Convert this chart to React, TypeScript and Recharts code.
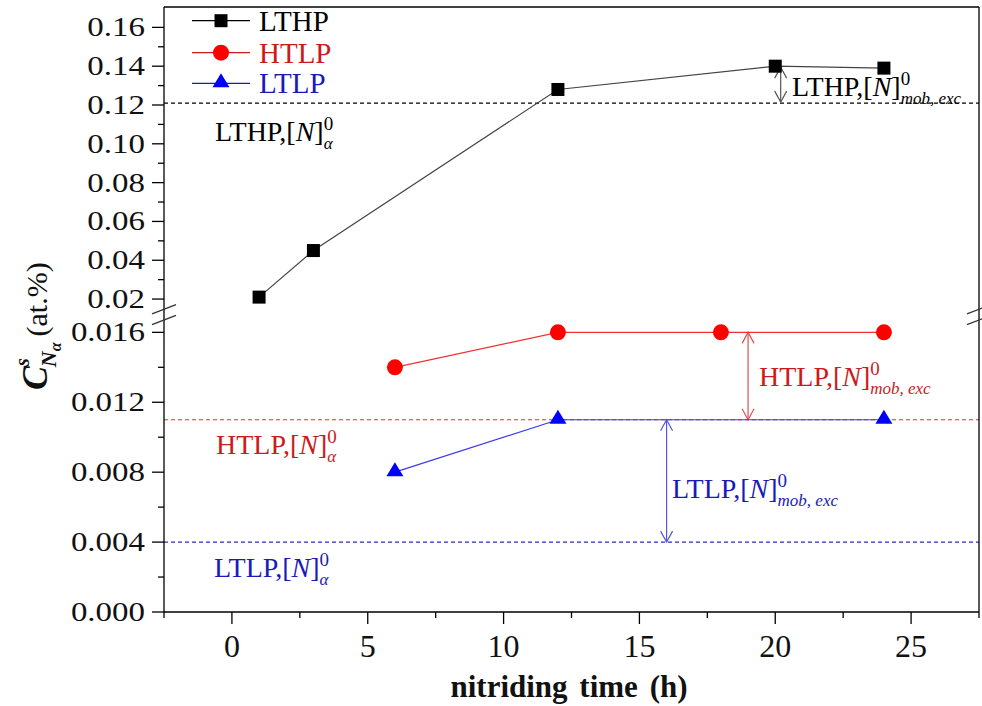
import React from 'react';
import { LineChart, Line, XAxis, YAxis, ReferenceLine } from 'recharts';

// nitriding time (h) and surface concentration (at.%)
const lthpTime = [1, 3, 12, 20, 24];
const lthpConc = [0.021, 0.045, 0.128, 0.14, 0.139];
const htlpTime = [6, 12, 18, 24];
const htlpConc = [0.014, 0.016, 0.016, 0.016];
const ltlpTime = [6, 12, 24];
const ltlpConc = [0.008, 0.011, 0.011];

// equilibrium levels [N]alpha^0
const lthpAlpha = 0.121;
const htlpAlpha = 0.011;
const ltlpAlpha = 0.004;

// excess arrows: [time, from, to]
const lthpArrow = [20.2, 0.1395, 0.1215];
const htlpArrow = [19, 0.016, 0.011];
const ltlpArrow = [16, 0.011, 0.004];

const xTicks = [-2.5, 0, 2.5, 5, 7.5, 10, 12.5, 15, 17.5, 20, 22.5, 25, 27.5];
const xMajor = [0, 5, 10, 15, 20, 25];
const upperTicks = [0.02, 0.03, 0.04, 0.05, 0.06, 0.07, 0.08, 0.09, 0.1, 0.11, 0.12, 0.13, 0.14, 0.15, 0.16];
const upperMajor = [0.02, 0.04, 0.06, 0.08, 0.1, 0.12, 0.14, 0.16];
const lowerTicks = [0, 0.002, 0.004, 0.006, 0.008, 0.01, 0.012, 0.014, 0.016];
const lowerMajor = [0, 0.004, 0.008, 0.012, 0.016];

const lthpData = lthpTime.map((t, i) => ({ t, c: lthpConc[i] }));
const htlpData = htlpTime.map((t, i) => ({ t, c: htlpConc[i] }));
const ltlpData = ltlpTime.map((t, i) => ({ t, c: ltlpConc[i] }));

const SERIF = '"Liberation Serif", "Times New Roman", serif';
const RED = '#ff0000';
const BLUE = '#0000ff';
const RED_TXT = '#cc1a1a';
const BLUE_TXT = '#1a1ab8';

const W = 982;
const LEFT = 164;
const RIGHT = 979;
const TOP = 7;
const BREAK = 314;
const BOTTOM = 612;

const isIn = (list: number[], v: number) => list.some((m) => Math.abs(m - v) < 1e-9);

const makeYTick = (major: number[], digits: number) => (props: any) => {
  const { x, y, payload } = props;
  const big = isIn(major, payload.value);
  return (
    <g>
      <line x1={x - (big ? 12 : 6)} x2={x} y1={y} y2={y} stroke="#000" strokeWidth={1.3} />
      {big && (
        <g transform={`translate(${x - 19}, ${y + 9}) scale(1.22, 1)`}>
          <text textAnchor="end" fontFamily={SERIF} fontSize={27} fill="#111">
            {payload.value.toFixed(digits)}
          </text>
        </g>
      )}
    </g>
  );
};

const XTick = (props: any) => {
  const { x, y, payload } = props;
  const big = isIn(xMajor, payload.value);
  return (
    <g>
      <line x1={x} x2={x} y1={y} y2={y + (big ? 12 : 6)} stroke="#000" strokeWidth={1.3} />
      {big && (
        <text x={x} y={y + 45} textAnchor="middle" fontFamily={SERIF} fontSize={32} fill="#111">
          {payload.value}
        </text>
      )}
    </g>
  );
};

const arrowShape = (color: string) => (props: any) => {
  const { x1, y1, y2 } = props;
  const top = Math.min(y1, y2);
  const bot = Math.max(y1, y2);
  const h = 11;
  const w = 6;
  return (
    <g stroke={color} strokeWidth={1.2} fill="none">
      <line x1={x1} y1={top} x2={x1} y2={bot} />
      <polyline points={`${x1 - w},${top + h} ${x1},${top} ${x1 + w},${top + h}`} />
      <polyline points={`${x1 - w},${bot - h} ${x1},${bot} ${x1 + w},${bot - h}`} />
    </g>
  );
};

const squareDot = (p: any) => (
  <rect key={`s${p.index}`} x={p.cx - 6.5} y={p.cy - 6.5} width={13} height={13} fill="#000" />
);
const circleDot = (p: any) => <circle key={`c${p.index}`} cx={p.cx} cy={p.cy} r={8} fill={RED} />;
const triDot = (p: any) => (
  <polygon
    key={`t${p.index}`}
    points={`${p.cx},${p.cy - 10} ${p.cx - 8.5},${p.cy + 4} ${p.cx + 8.5},${p.cy + 4}`}
    fill={BLUE}
  />
);

const Annot = ({ x, y, color, lead, sub }: any) => (
  <text x={x} y={y} fill={color} fontFamily={SERIF} fontSize={28}>
    {lead},[<tspan fontStyle="italic">N</tspan>]
    <tspan fontSize={19} dy={-11}>0</tspan>
    <tspan fontSize={17} fontStyle="italic" dx={-9.5} dy={19}>{sub}</tspan>
  </text>
);

const LegendRow = ({ y, color, label, children }: any) => (
  <g>
    <line x1={192} x2={250} y1={y} y2={y} stroke={color} strokeWidth={1.3} />
    {children}
    <text x={259} y={y + 10} fill={color} fontFamily={SERIF} fontSize={29}>{label}</text>
  </g>
);

const axisStyle = { stroke: '#000', strokeWidth: 1.3 };

export default function App() {
  return (
    <div style={{ position: 'absolute', left: 0, top: 0, width: W, height: 706, background: '#fff' }}>
      <div style={{ position: 'absolute', left: 0, top: 0 }}>
        <LineChart width={W} height={BREAK} margin={{ top: TOP, right: W - RIGHT, bottom: 0, left: 0 }}>
          <XAxis type="number" dataKey="t" domain={[-2.5, 27.5]} hide allowDataOverflow />
          <YAxis
            type="number"
            domain={[0.0123, 0.1705]}
            ticks={upperTicks}
            interval={0}
            width={LEFT}
            tickSize={0}
            tickMargin={0}
            tickLine={false}
            axisLine={axisStyle}
            tick={makeYTick(upperMajor, 2)}
            allowDataOverflow
          />
          <ReferenceLine y={lthpAlpha} stroke="#000" strokeWidth={1.2} strokeDasharray="4 3" />
          <ReferenceLine
            segment={[{ x: lthpArrow[0], y: lthpArrow[1] }, { x: lthpArrow[0], y: lthpArrow[2] }]}
            shape={arrowShape('#555')}
          />
          <Line
            data={lthpData}
            dataKey="c"
            stroke="#444"
            strokeWidth={1.2}
            dot={squareDot}
            isAnimationActive={false}
          />
        </LineChart>
      </div>
      <div style={{ position: 'absolute', left: 0, top: BREAK }}>
        <LineChart width={W} height={706 - BREAK} margin={{ top: 0, right: W - RIGHT, bottom: 0, left: 0 }}>
          <XAxis
            type="number"
            dataKey="t"
            domain={[-2.5, 27.5]}
            ticks={xTicks}
            interval={0}
            height={706 - BOTTOM}
            tickSize={0}
            tickMargin={0}
            tickLine={false}
            axisLine={axisStyle}
            tick={XTick}
            allowDataOverflow
          />
          <YAxis
            type="number"
            domain={[0, 0.01705]}
            ticks={lowerTicks}
            interval={0}
            width={LEFT}
            tickSize={0}
            tickMargin={0}
            tickLine={false}
            axisLine={axisStyle}
            tick={makeYTick(lowerMajor, 3)}
            allowDataOverflow
          />
          <ReferenceLine y={htlpAlpha} stroke="#e03030" strokeWidth={1.2} strokeDasharray="4 3" />
          <ReferenceLine y={ltlpAlpha} stroke="#2a2ac8" strokeWidth={1.2} strokeDasharray="4 3" />
          <ReferenceLine
            segment={[{ x: htlpArrow[0], y: htlpArrow[1] }, { x: htlpArrow[0], y: htlpArrow[2] }]}
            shape={arrowShape('#e05050')}
          />
          <ReferenceLine
            segment={[{ x: ltlpArrow[0], y: ltlpArrow[1] }, { x: ltlpArrow[0], y: ltlpArrow[2] }]}
            shape={arrowShape('#5555e0')}
          />
          <Line data={htlpData} dataKey="c" stroke="#f03030" strokeWidth={1.2} dot={circleDot} isAnimationActive={false} />
          <Line data={ltlpData} dataKey="c" stroke="#3a3af0" strokeWidth={1.2} dot={triDot} isAnimationActive={false} />
        </LineChart>
      </div>
      <svg
        width={W}
        height={706}
        style={{ position: 'absolute', left: 0, top: 0, pointerEvents: 'none' }}
      >
        {/* frame top and right */}
        <line x1={LEFT} x2={RIGHT} y1={TOP} y2={TOP} stroke="#000" strokeWidth={1.3} />
        <line x1={RIGHT} x2={RIGHT} y1={TOP} y2={BOTTOM} stroke="#000" strokeWidth={1.3} />
        {/* axis break marks */}
        {[LEFT, RIGHT].map((bx) => (
          <g key={bx} stroke="#333" strokeWidth={1.3}>
            <line x1={bx - 12} y1={BREAK - 4.7 + 4.6} x2={bx + 12} y2={BREAK - 4.7 - 4.6} />
            <line x1={bx - 12} y1={BREAK + 6 + 4.6} x2={bx + 12} y2={BREAK + 6 - 4.6} />
          </g>
        ))}
        {/* legend */}
        <LegendRow y={20.7} color="#000" label="LTHP">
          <rect x={221 - 6.5} y={20.7 - 6.5} width={13} height={13} fill="#000" />
        </LegendRow>
        <LegendRow y={52.7} color={RED_TXT} label="HTLP">
          <circle cx={221} cy={52.7} r={8} fill={RED} />
        </LegendRow>
        <LegendRow y={83.3} color={BLUE_TXT} label="LTLP">
          <polygon points={`221,73.3 212.5,87.3 229.5,87.3`} fill={BLUE} />
        </LegendRow>
        {/* annotations */}
        <Annot x={215} y={141} color="#000" lead="LTHP" sub="α" />
        <Annot x={792} y={96} color="#000" lead="LTHP" sub="mob, exc" />
        <Annot x={216} y={454} color={RED_TXT} lead="HTLP" sub="α" />
        <Annot x={759} y={386} color={RED_TXT} lead="HTLP" sub="mob, exc" />
        <Annot x={214} y={577} color={BLUE_TXT} lead="LTLP" sub="α" />
        <Annot x={672} y={498} color={BLUE_TXT} lead="LTLP" sub="mob, exc" />
        {/* axis titles */}
        <text
          x={569}
          y={697}
          textAnchor="middle"
          fontFamily={SERIF}
          fontSize={31}
          fontWeight="bold"
          wordSpacing={4}
          fill="#111"
        >
          nitriding time (h)
        </text>
        <text transform="translate(47, 390) rotate(-90)" fontFamily={SERIF} fill="#111">
          <tspan fontSize={36} fontWeight="bold" fontStyle="italic">C</tspan>
          <tspan fontSize={20} fontWeight="bold" fontStyle="italic" dy={-18}>s</tspan>
          <tspan fontSize={22} fontWeight="bold" fontStyle="italic" dx={-9} dy={27}>N</tspan>
          <tspan fontSize={16} fontWeight="bold" fontStyle="italic" dy={5}>α</tspan>
          <tspan fontSize={30} dy={-14} dx={6}>(at.%)</tspan>
        </text>
      </svg>
    </div>
  );
}
